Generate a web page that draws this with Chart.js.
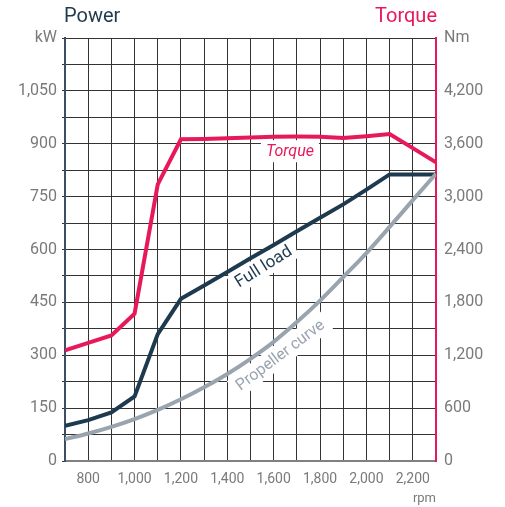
<!DOCTYPE html>
<html>
<head>
<meta charset="utf-8">
<script src="https://cdn.jsdelivr.net/npm/chart.js@4/dist/chart.umd.min.js"></script>
<style>
  html, body { margin: 0; padding: 0; background: #fff; }
  #wrap { width: 505px; height: 507px; }
</style>
</head>
<body>
<div id="wrap"><canvas id="myChart" width="505" height="507"></canvas></div>
<script>
const rpm = [700, 800, 900, 1000, 1100, 1200, 1300, 1400, 1500, 1600, 1700, 1800, 1900, 2000, 2100, 2200, 2300];

// kW
const fullLoad = [100, 116, 138, 183, 360, 460, 498, 536, 575, 613, 652, 690, 728, 770, 813, 813, 813];
const propeller = [62, 78, 97, 119, 145, 175, 209, 247, 290, 338, 394, 455, 522, 590, 664, 740, 815];

// Nm
const torque = [1255, 1340, 1425, 1672, 3140, 3650, 3655, 3662, 3672, 3680, 3682, 3680, 3665, 3685, 3710, 3550, 3390];

const RED = '#E8195A';
const NAVY = '#1E3A4E';
const GREY = '#9AA4AF';
const TICK = '#7a7a7a';
const FONT = 'Roboto, "Liberation Sans", sans-serif';

function pts(values) {
  return rpm.map((r, i) => ({ x: r, y: values[i] }));
}

// text labels sitting on the curves, placed in data units
const curveLabels = [
  { text: 'Torque', x: 1670, y: 3515, axis: 'yR', angle: 0, color: RED, font: 'italic 16px ' + FONT },
  { text: 'Full load', x: 1555, y: 552, axis: 'y', angle: -32, color: NAVY, font: '17px ' + FONT },
  { text: 'Propeller curve', x: 1627, y: 301, axis: 'y', angle: -37, color: GREY, font: '16px ' + FONT },
];

const extras = {
  id: 'extras',
  beforeDatasetsDraw(chart) {
    const ctx = chart.ctx;
    const xs = chart.scales.x;
    curveLabels.forEach(l => {
      const px = xs.getPixelForValue(l.x);
      const py = chart.scales[l.axis].getPixelForValue(l.y);
      ctx.save();
      ctx.translate(px, py);
      ctx.rotate(l.angle * Math.PI / 180);
      ctx.font = l.font;
      const w = ctx.measureText(l.text).width;
      ctx.fillStyle = '#fff';
      ctx.fillRect(-w / 2 - 5, -11, w + 10, 22);
      ctx.fillStyle = l.color;
      ctx.textAlign = 'center';
      ctx.textBaseline = 'middle';
      ctx.fillText(l.text, 0, 1);
      ctx.restore();
    });
  },
  afterDraw(chart) {
    const ctx = chart.ctx;
    const a = chart.chartArea;
    ctx.save();
    ctx.font = '20px ' + FONT;
    ctx.textBaseline = 'alphabetic';
    ctx.fillStyle = NAVY;
    ctx.textAlign = 'left';
    ctx.fillText('Power', a.left - 1, 22);
    ctx.fillStyle = RED;
    ctx.textAlign = 'right';
    ctx.fillText('Torque', a.right + 1, 22);
    ctx.font = '13px ' + FONT;
    ctx.fillStyle = TICK;
    ctx.textBaseline = 'middle';
    ctx.fillText('rpm', a.right, a.bottom + 38);
    ctx.restore();
  }
};

const data = {
  datasets: [
    {
      label: 'Propeller curve',
      data: pts(propeller),
      borderColor: GREY,
      borderWidth: 4,
      pointRadius: 0,
      tension: 0.4,
      cubicInterpolationMode: 'monotone',
      yAxisID: 'y',
    },
    {
      label: 'Full load',
      data: pts(fullLoad),
      borderColor: NAVY,
      borderWidth: 4,
      pointRadius: 0,
      tension: 0,
      yAxisID: 'y',
    },
    {
      label: 'Torque',
      data: pts(torque),
      borderColor: RED,
      borderWidth: 4,
      pointRadius: 0,
      tension: 0,
      yAxisID: 'yR',
    },
  ]
};

const config = {
  type: 'line',
  data: data,
  options: {
    responsive: false,
    animation: false,
    layout: { padding: { top: 38, left: 0, right: 0, bottom: 0 } },
    plugins: {
      legend: { display: false },
      tooltip: { enabled: false },
    },
    scales: {
      x: {
        type: 'linear',
        min: 700,
        max: 2300,
        afterFit: s => { s.height = 46; },
        afterBuildTicks: s => { s.ticks = rpm.map(v => ({ value: v })); },
        ticks: {
          autoSkip: false,
          maxRotation: 0,
          padding: 10,
          color: TICK,
          font: { family: FONT, size: 14 },
          callback: v => (v % 200 === 0 ? v.toLocaleString('en-US') : ''),
        },
        grid: { color: '#333', lineWidth: 1, drawTicks: false },
        border: { color: '#808080', width: 2 },
      },
      y: {
        position: 'left',
        min: 0,
        max: 1200,
        afterFit: s => { s.width = 65; },
        ticks: {
          stepSize: 75,
          autoSkip: false,
          padding: 5,
          color: TICK,
          font: { family: FONT, size: 16 },
          callback: v => (v === 1200 ? 'kW' : (v % 150 === 0 ? v.toLocaleString('en-US') : '')),
        },
        grid: { color: '#333', lineWidth: 1, tickLength: 3 },
        border: { color: '#3C4E60', width: 2 },
      },
      yR: {
        position: 'right',
        min: 0,
        max: 4800,
        afterFit: s => { s.width = 69; },
        ticks: {
          stepSize: 300,
          autoSkip: false,
          padding: 8,
          color: TICK,
          font: { family: FONT, size: 16 },
          callback: v => (v === 4800 ? 'Nm' : (v % 600 === 0 ? v.toLocaleString('en-US') : '')),
        },
        grid: { drawOnChartArea: false, drawTicks: false },
        border: { color: RED, width: 2 },
      },
    },
  },
  plugins: [extras],
};

const myChart = new Chart(document.getElementById('myChart'), config);
</script>
</body>
</html>
